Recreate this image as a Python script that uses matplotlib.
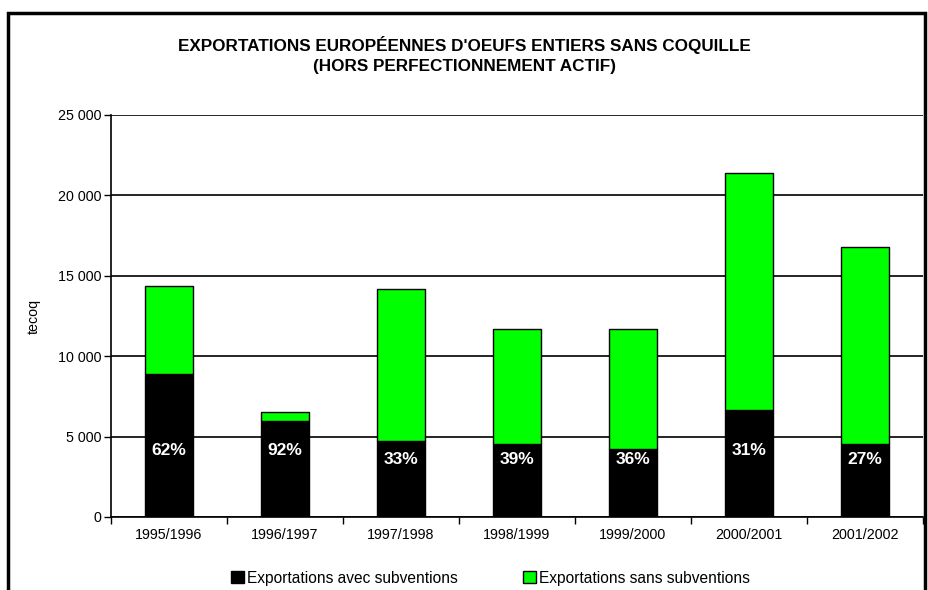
import matplotlib.pyplot as plt
from matplotlib.patches import Rectangle, Patch
import numpy as np

plt.rcParams['font.family'] = ['Liberation Sans', 'DejaVu Sans']

# Data (tonnes equivalent coquille)
campagnes = ['1995/1996', '1996/1997', '1997/1998', '1998/1999', '1999/2000', '2000/2001', '2001/2002']
avec_subv = [8870, 6000, 4700, 4560, 4250, 6630, 4540]
sans_subv = [5480, 500, 9500, 7140, 7450, 14770, 12260]
pourcentages = ['62%', '92%', '33%', '39%', '36%', '31%', '27%']

fig = plt.figure(figsize=(9.29, 5.9), dpi=100)
ax = fig.add_axes([111/929, 1 - 517/590, 812/929, 402/590])

x = np.arange(len(campagnes))
w = 0.41
ax.bar(x, avec_subv, w, color='black', edgecolor='black', linewidth=1, zorder=3,
       label='Exportations avec subventions')
ax.bar(x, sans_subv, w, bottom=avec_subv, color='#00ff00', edgecolor='black', linewidth=1,
       zorder=3, label='Exportations sans subventions')

for i, (b, p) in enumerate(zip(avec_subv, pourcentages)):
    ylab = 4150 if b > 5500 else 3600
    ax.text(x[i], ylab, p, color='white', fontweight='bold', fontsize=12.5,
            ha='center', va='center', zorder=4)

ax.set_xlim(-0.5, len(campagnes) - 0.5)
ax.set_ylim(0, 25000)
ax.set_yticks(np.arange(0, 25001, 5000))
ax.set_yticklabels(['{:,}'.format(v).replace(',', ' ') for v in range(0, 25001, 5000)])
ax.yaxis.grid(True, color='black', linewidth=1.2, zorder=0)
ax.set_xticks(x)
ax.set_xticklabels(campagnes)
ax.set_xticks(np.arange(-0.5, len(campagnes)), minor=True)
ax.tick_params(axis='x', which='major', length=0, pad=8, labelsize=10.3)
ax.tick_params(axis='x', which='minor', length=5, width=1, direction='out')
ax.tick_params(axis='y', length=5, width=1, direction='out', labelsize=10.3, pad=2)
for s in ['top', 'right']:
    ax.spines[s].set_visible(False)
ax.spines['left'].set_linewidth(1.2)
ax.spines['bottom'].set_linewidth(1.2)
ax.set_ylabel('tecoq', fontsize=10.3, labelpad=12)

fig.text(0.5, 1 - 45/590, "EXPORTATIONS EUROPÉENNES D'OEUFS ENTIERS SANS COQUILLE",
         ha='center', va='center', fontsize=12.3, fontweight='bold')
fig.text(0.5, 1 - 66/590, "(HORS PERFECTIONNEMENT ACTIF)",
         ha='center', va='center', fontsize=12.3, fontweight='bold')

handles = [Patch(facecolor='black', edgecolor='black'),
           Patch(facecolor='#00ff00', edgecolor='black')]
fig.legend(handles, ['Exportations avec subventions', 'Exportations sans subventions'],
           loc='center', bbox_to_anchor=(0.528, 1 - 578/590), ncol=2, frameon=False,
           fontsize=11.2, handlelength=0.8, handleheight=0.8, handletextpad=0.2,
           columnspacing=4.2)

# outer chart frame (bottom edge lies outside the picture)
fig.patches.append(Rectangle((8/929, -0.05), 917/929, 1.05 - 13/590, transform=fig.transFigure,
                             fill=False, edgecolor='black', linewidth=2.5))

fig.savefig('out.png', dpi=100)
